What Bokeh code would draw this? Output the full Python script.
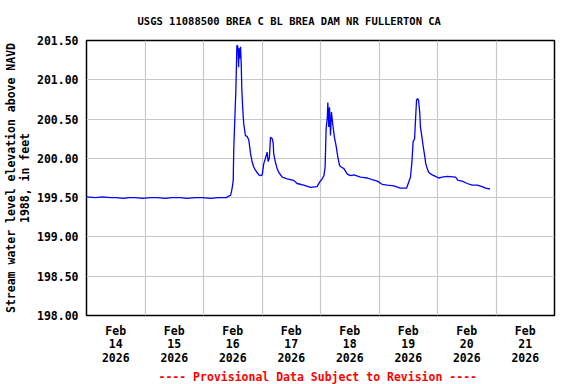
from bokeh.plotting import figure
from bokeh.models import Range1d, FixedTicker, Title, PrintfTickFormatter
from bokeh.embed import file_html
from bokeh.resources import INLINE

# hours since 2026-02-14 00:00 (local)
hours = [0.0, 3.7, 6.5, 9.8, 12.0, 15.2, 17.5, 20.1, 23.0, 26.3, 29.0, 32.4, 35.0, 38.6, 41.0,
         44.7, 47.5, 50.9, 54.0, 57.4, 58.3, 59.1, 59.5, 59.9, 60.2, 60.4, 60.8, 61.3, 61.7,
         62.1, 62.4, 62.6, 62.9, 63.2, 63.5, 63.7, 64.1, 64.5, 65.2, 65.9, 66.6, 67.3, 68.0,
         68.6, 69.3, 70.0, 70.7, 71.4, 72.1, 72.7, 73.4, 74.1, 74.5, 75.0, 75.5, 76.2, 76.6,
         76.8, 77.5, 78.2, 78.9, 80.3, 82.3, 85.0, 86.4, 89.1, 91.9, 94.6, 95.7, 96.7, 97.4,
         97.9, 98.3, 98.8, 99.0, 99.4, 99.7, 100.1, 100.5, 101.0, 101.7, 102.4, 103.1, 103.8,
         104.5, 105.6, 107.0, 108.3, 109.7, 112.4, 115.2, 117.2, 119.3, 121.3, 123.4, 126.1,
         128.8, 131.3, 132.2, 132.9, 133.5, 134.0, 134.6, 135.0, 135.4, 135.8, 136.2, 136.7,
         137.0, 137.7, 138.1, 138.7, 139.2, 139.8, 140.4, 141.8, 143.2, 144.5, 145.9, 148.0,
         151.4, 152.4, 154.1, 156.2, 158.2, 160.3, 162.3, 163.7, 165.5]
stage = [199.51, 199.50, 199.51, 199.50, 199.50, 199.49, 199.50, 199.50, 199.49, 199.50,
         199.50, 199.49, 199.50, 199.50, 199.49, 199.50, 199.50, 199.49, 199.50, 199.50,
         199.52, 199.53, 199.58, 199.65, 199.72, 200.10, 200.46, 200.89, 201.44, 201.42,
         201.16, 201.40, 201.27, 201.42, 201.18, 200.89, 200.63, 200.44, 200.29, 200.28,
         200.23, 200.06, 199.95, 199.89, 199.85, 199.82, 199.79, 199.78, 199.79, 199.93,
         200.00, 200.08, 199.96, 200.00, 200.27, 200.25, 200.19, 200.06, 199.95, 199.87,
         199.82, 199.76, 199.74, 199.72, 199.68, 199.66, 199.63, 199.64, 199.70, 199.74,
         199.78, 199.89, 200.38, 200.52, 200.71, 200.40, 200.65, 200.29, 200.59, 200.44,
         200.27, 200.16, 200.02, 199.91, 199.89, 199.87, 199.80, 199.78, 199.79, 199.76,
         199.75, 199.73, 199.71, 199.67, 199.66, 199.65, 199.62, 199.62, 199.70, 199.76,
         199.95, 200.21, 200.25, 200.50, 200.74, 200.76, 200.74, 200.59, 200.40, 200.25,
         200.16, 200.04, 199.93, 199.87, 199.82, 199.79, 199.77, 199.75, 199.76, 199.77,
         199.76, 199.72, 199.71, 199.68, 199.66, 199.66, 199.64, 199.62, 199.61]

day_grid = [0, 24, 48, 72, 96, 120, 144, 168, 192]
day_ticks = [12, 36, 60, 84, 108, 132, 156, 180]
day_labels = ["Feb\n14\n2026", "Feb\n15\n2026", "Feb\n16\n2026", "Feb\n17\n2026",
              "Feb\n18\n2026", "Feb\n19\n2026", "Feb\n20\n2026", "Feb\n21\n2026"]
y_ticks = [198.0, 198.5, 199.0, 199.5, 200.0, 200.5, 201.0, 201.5]

title_text = "USGS 11088500 BREA C BL BREA DAM NR FULLERTON CA"
ylabel_text = "Stream water level elevation above NAVD\n1988, in feet"
note_text = "---- Provisional Data Subject to Revision ----"

FONT = "DejaVu Sans Mono"
W, H = 576, 384

p = figure(width=W, height=H, output_backend="svg", toolbar_location=None,
           x_range=Range1d(0, 192), y_range=Range1d(198.0, 201.5),
           min_border_left=86, min_border_right=22, min_border_top=40, min_border_bottom=69)
p.background_fill_color = "white"
p.border_fill_color = "white"
p.outline_line_color = "black"
p.outline_line_width = 1.5

p.line(hours, stage, line_color="#0000FF", line_width=1.3)

for ax in (p.xaxis, p.yaxis):
    ax.axis_line_color = None
    ax.major_tick_line_color = None
    ax.minor_tick_line_color = None
    ax.major_tick_out = 0
    ax.major_tick_in = 0
    ax.minor_tick_out = 0
    ax.major_label_text_font = FONT
    ax.major_label_text_font_style = "bold"
    ax.major_label_text_font_size = "11.5px"
    ax.major_label_text_color = "black"
    ax.major_label_standoff = 8

p.xaxis.ticker = FixedTicker(ticks=day_ticks)
p.xaxis.major_label_overrides = {t: lab for t, lab in zip(day_ticks, day_labels)}
p.xaxis.major_label_text_line_height = 0.97
p.yaxis.ticker = FixedTicker(ticks=y_ticks)
p.yaxis.formatter = PrintfTickFormatter(format="%.2f")

p.yaxis.axis_label = ylabel_text
p.yaxis.axis_label_text_font = FONT
p.yaxis.axis_label_text_font_style = "bold"
p.yaxis.axis_label_text_font_size = "11.5px"
p.yaxis.axis_label_text_color = "black"
p.yaxis.axis_label_text_line_height = 1.0
p.yaxis.axis_label_standoff = 2

p.xgrid.ticker = FixedTicker(ticks=day_grid)
p.xgrid.grid_line_color = "#c8c8c8"
p.xgrid.grid_line_width = 1.2
p.ygrid.grid_line_color = "#c8c8c8"
p.ygrid.grid_line_width = 1.2

p.title = Title(text=title_text, text_font=FONT, text_font_style="bold",
                text_font_size="10.5px", text_color="black", align="left",
                vertical_align="middle", text_line_height=0.8, offset=51, standoff=26)
p.add_layout(Title(text=note_text, text_font=FONT, text_font_style="bold",
                   text_font_size="11.5px", text_color="#FF0000", align="left",
                   offset=72, standoff=1), "below")

open("out.html", "w").write(file_html(p, INLINE))
